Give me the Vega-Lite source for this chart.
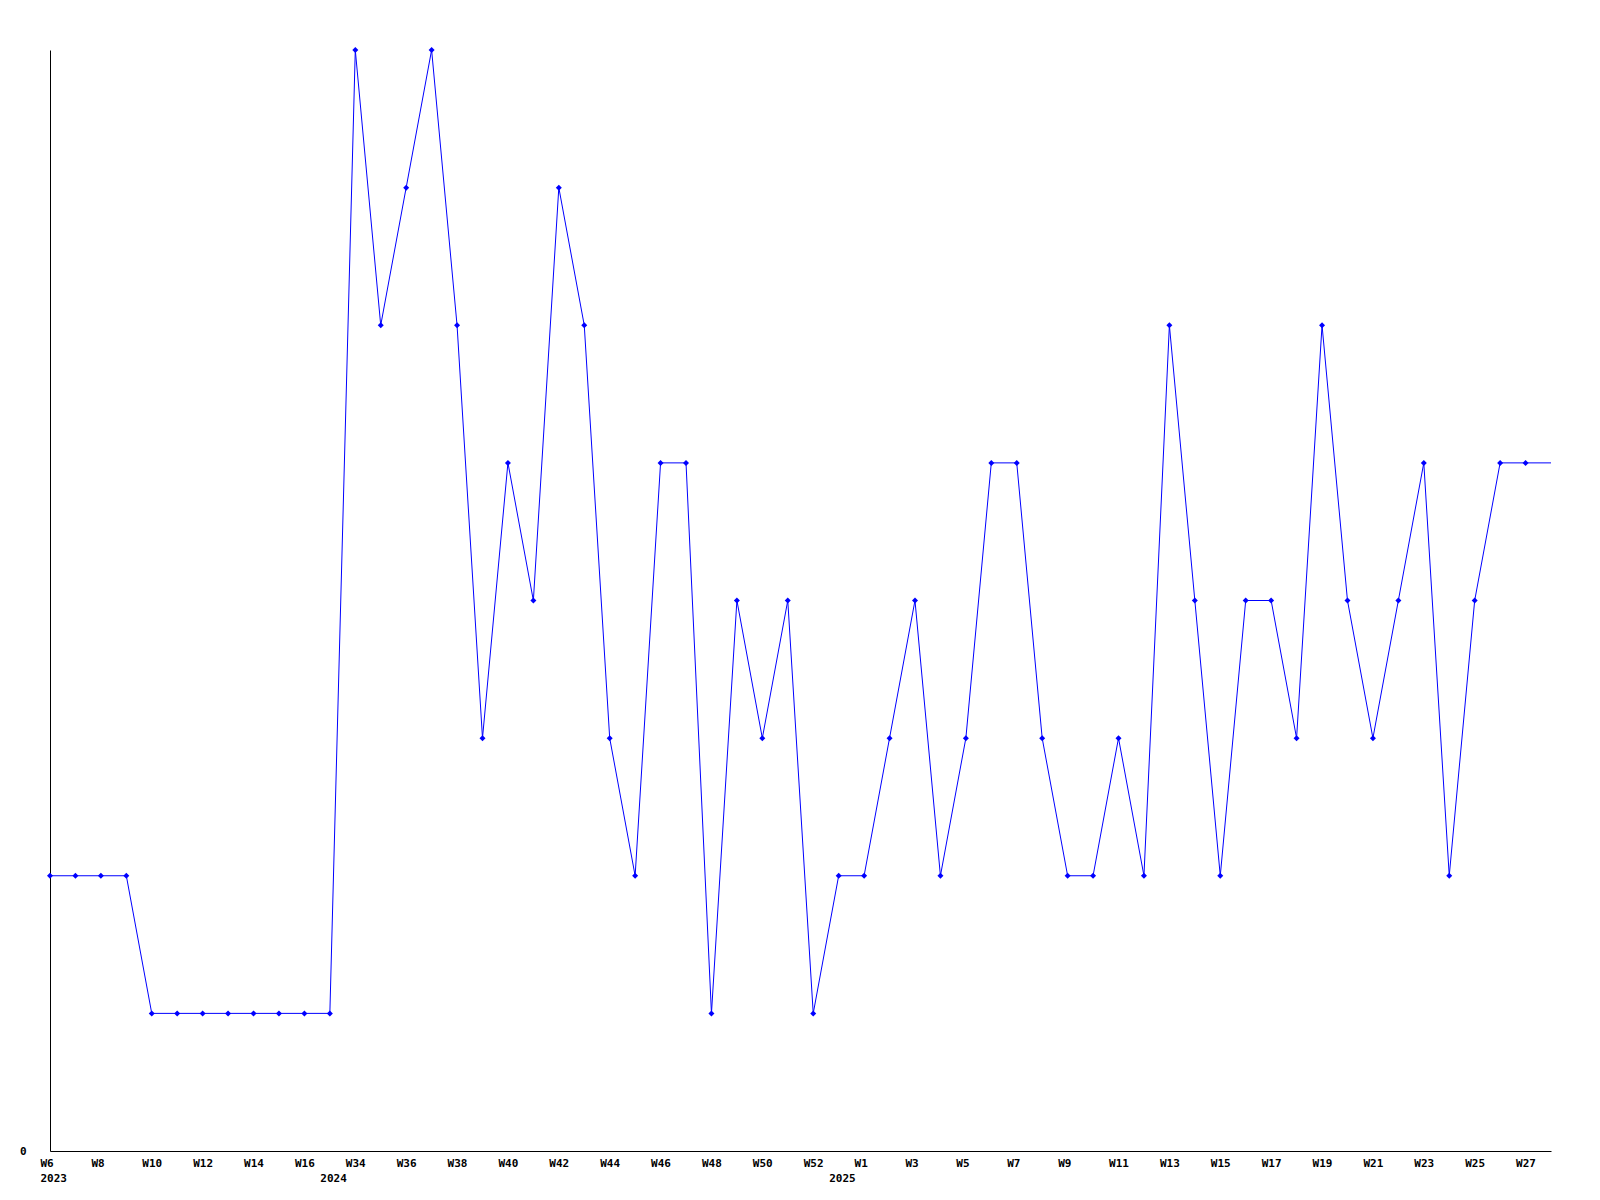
{
  "$schema": "https://vega.github.io/schema/vega-lite/v6.json",
  "autosize": {"type": "none"},
  "padding": {"left": 50, "top": 50, "right": 49, "bottom": 49},
  "width": 1501,
  "height": 1101,
  "background": "white",
  "config": {"view": {"stroke": null}},
  "data": {"values": [
    {"k": "2023-W06", "v": 2}, {"k": "2023-W07", "v": 2}, {"k": "2023-W08", "v": 2}, {"k": "2023-W09", "v": 2},
    {"k": "2023-W10", "v": 1}, {"k": "2023-W11", "v": 1}, {"k": "2023-W12", "v": 1}, {"k": "2023-W13", "v": 1},
    {"k": "2023-W14", "v": 1}, {"k": "2023-W15", "v": 1}, {"k": "2023-W16", "v": 1},
    {"k": "2024-W33", "v": 1}, {"k": "2024-W34", "v": 8}, {"k": "2024-W35", "v": 6}, {"k": "2024-W36", "v": 7},
    {"k": "2024-W37", "v": 8}, {"k": "2024-W38", "v": 6}, {"k": "2024-W39", "v": 3}, {"k": "2024-W40", "v": 5},
    {"k": "2024-W41", "v": 4}, {"k": "2024-W42", "v": 7}, {"k": "2024-W43", "v": 6}, {"k": "2024-W44", "v": 3},
    {"k": "2024-W45", "v": 2}, {"k": "2024-W46", "v": 5}, {"k": "2024-W47", "v": 5}, {"k": "2024-W48", "v": 1},
    {"k": "2024-W49", "v": 4}, {"k": "2024-W50", "v": 3}, {"k": "2024-W51", "v": 4}, {"k": "2024-W52", "v": 1},
    {"k": "2025-W00", "v": 2}, {"k": "2025-W01", "v": 2}, {"k": "2025-W02", "v": 3}, {"k": "2025-W03", "v": 4},
    {"k": "2025-W04", "v": 2}, {"k": "2025-W05", "v": 3}, {"k": "2025-W06", "v": 5}, {"k": "2025-W07", "v": 5},
    {"k": "2025-W08", "v": 3}, {"k": "2025-W09", "v": 2}, {"k": "2025-W10", "v": 2}, {"k": "2025-W11", "v": 3},
    {"k": "2025-W12", "v": 2}, {"k": "2025-W13", "v": 6}, {"k": "2025-W14", "v": 4}, {"k": "2025-W15", "v": 2},
    {"k": "2025-W16", "v": 4}, {"k": "2025-W17", "v": 4}, {"k": "2025-W18", "v": 3}, {"k": "2025-W19", "v": 6},
    {"k": "2025-W20", "v": 4}, {"k": "2025-W21", "v": 3}, {"k": "2025-W22", "v": 4}, {"k": "2025-W23", "v": 5},
    {"k": "2025-W24", "v": 2}, {"k": "2025-W25", "v": 4}, {"k": "2025-W26", "v": 5}, {"k": "2025-W27", "v": 5},
    {"k": "2025-W28", "v": 5}
  ]},
  "encoding": {
    "x": {
      "field": "k", "type": "ordinal", "sort": null,
      "scale": {"type": "point", "padding": 0},
      "axis": {
        "title": null, "domain": true, "domainColor": "#000000", "domainWidth": 1,
        "ticks": false, "grid": false, "labelAngle": 0, "labelOverlap": false,
        "labelAlign": "left", "labelOffset": -10, "labelBaseline": "top", "labelPadding": 6,
        "labelFont": "DejaVu Sans Mono", "labelFontWeight": "bold", "labelFontSize": 11,
        "labelColor": "#000000", "labelLineHeight": 15.5,
        "labelExpr": "[((substring(datum.value,0,4)=='2025') ? (toNumber(substring(datum.value,6))%2==1) : (toNumber(substring(datum.value,6))%2==0)) ? 'W' + toNumber(substring(datum.value,6)) : '', datum.value=='2023-W06' ? '2023' : (datum.value=='2024-W33' ? '2024' : (datum.value=='2025-W00' ? '2025' : ''))]"
      }
    },
    "y": {
      "field": "v", "type": "quantitative",
      "scale": {"domain": [0, 8], "nice": false, "zero": true},
      "axis": {
        "title": null, "domain": true, "domainColor": "#000000", "domainWidth": 1,
        "ticks": false, "grid": false, "values": [0], "labelPadding": 24,
        "labelFont": "DejaVu Sans Mono", "labelFontWeight": "bold", "labelFontSize": 11,
        "labelColor": "#000000"
      }
    }
  },
  "layer": [
    {"mark": {"type": "line", "color": "#0000ff", "strokeWidth": 1}},
    {
      "transform": [{"filter": "datum.k != '2025-W28'"}],
      "mark": {"type": "point", "shape": "diamond", "filled": true, "color": "#0000ff", "size": 36, "opacity": 1}
    }
  ]
}
